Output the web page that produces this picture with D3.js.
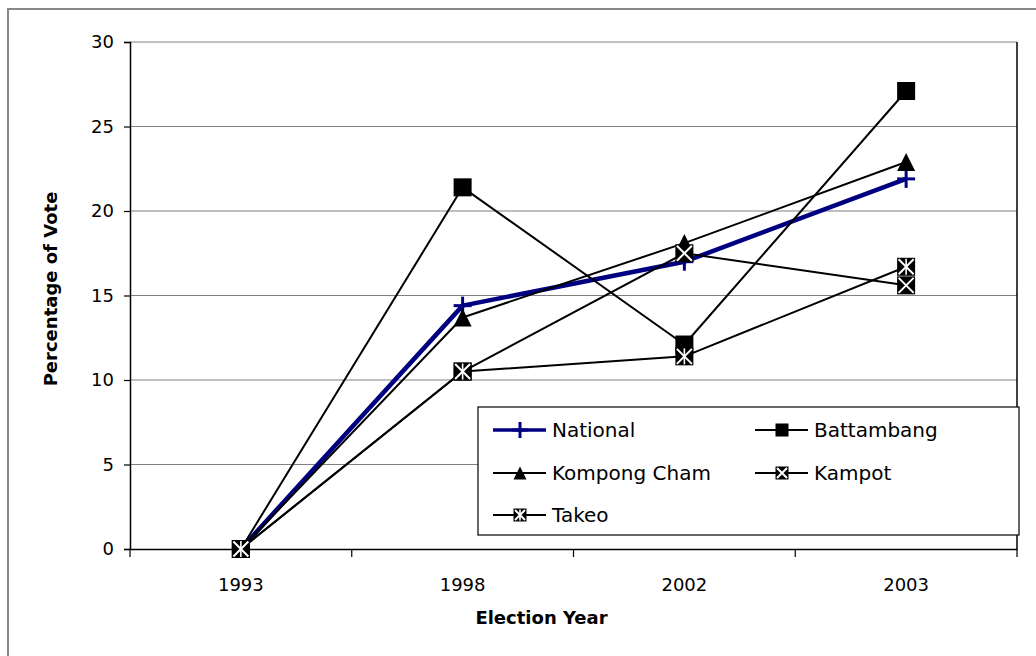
<!DOCTYPE html>
<html>
<head>
<meta charset="utf-8">
<script src="https://cdn.jsdelivr.net/npm/d3@7"></script>
<style>
  body { margin: 0; background: #fff; }
  text { font-family: "DejaVu Sans", sans-serif; }
</style>
</head>
<body>
<script>
// Chart data
const years = ['1993', '1998', '2002', '2003'];
const national = [0, 14.4, 17.0, 21.9];
const battambang = [0, 21.4, 12.1, 27.1];
const kompongCham = [0, 13.7, 18.1, 22.9];
const kampot = [0, 10.5, 17.5, 15.6];
const takeo = [0, 10.5, 11.4, 16.7];
const yTicks = [0, 5, 10, 15, 20, 25, 30];

const series = [
    { name: 'National', values: national, color: '#000080', width: 4.5, marker: 'plus' },
    { name: 'Battambang', values: battambang, color: '#000', width: 2, marker: 'square' },
    { name: 'Kompong Cham', values: kompongCham, color: '#000', width: 2, marker: 'triangle' },
    { name: 'Kampot', values: kampot, color: '#000', width: 2, marker: 'xbox' },
    { name: 'Takeo', values: takeo, color: '#000', width: 2, marker: 'star' }
];

const width = 1036, height = 656;
const plot = { left: 130, right: 1017, top: 42, bottom: 549 };

const svg = d3.select('body').append('svg')
    .attr('width', width)
    .attr('height', height);

// outer chart border (only top and left visible)
svg.append('rect')
    .attr('x', 8).attr('y', 9)
    .attr('width', 1040).attr('height', 660)
    .attr('fill', 'none')
    .attr('stroke', '#888')
    .attr('stroke-width', 2);

const x = d3.scaleBand().domain(years).range([plot.left, plot.right]);
const y = d3.scaleLinear().domain([0, 30]).range([plot.bottom, plot.top]);

// gridlines
svg.append('g')
    .selectAll('line')
    .data(yTicks.filter(d => d > 0))
    .enter().append('line')
    .attr('x1', plot.left).attr('x2', plot.right)
    .attr('y1', d => y(d)).attr('y2', d => y(d))
    .attr('stroke', '#808080')
    .attr('stroke-width', 1);

// right edge of plot
svg.append('line')
    .attr('x1', plot.right).attr('x2', plot.right)
    .attr('y1', plot.top).attr('y2', plot.bottom)
    .attr('stroke', '#000').attr('stroke-width', 1.5);

// y axis
const yAxis = svg.append('g')
    .attr('transform', `translate(${plot.left},0)`)
    .call(d3.axisLeft(y).tickValues(yTicks).tickSize(6).tickPadding(10));
yAxis.select('.domain').attr('stroke-width', 1.5);
yAxis.selectAll('.tick line').attr('stroke-width', 1.2);
yAxis.selectAll('text').attr('font-size', 18).attr('font-family', 'DejaVu Sans').attr('fill', '#000');

// x axis: ticks at category boundaries
const xAxis = svg.append('g')
    .attr('transform', `translate(0,${plot.bottom})`)
    .call(d3.axisBottom(x).tickSize(0).tickPadding(29));
xAxis.select('.domain').attr('stroke-width', 1.5);
xAxis.selectAll('text').attr('font-size', 18).attr('font-family', 'DejaVu Sans').attr('fill', '#000');
const bounds = years.map(d => x(d)).concat([plot.right]);
xAxis.selectAll('.bound')
    .data(bounds)
    .enter().append('line')
    .attr('x1', d => d).attr('x2', d => d)
    .attr('y1', 0).attr('y2', 8)
    .attr('stroke', '#000').attr('stroke-width', 1.2);

// axis titles
svg.append('text')
    .attr('x', (plot.left + plot.right) / 2 - 32)
    .attr('y', 624)
    .attr('text-anchor', 'middle')
    .attr('font-size', 18)
    .attr('font-weight', 'bold')
    .text('Election Year');

svg.append('text')
    .attr('transform', 'translate(57,289) rotate(-90)')
    .attr('text-anchor', 'middle')
    .attr('font-size', 18)
    .attr('font-weight', 'bold')
    .text('Percentage of Vote');

// marker drawing
function drawMarker(g, type, s, color) {
    const h = s / 2;
    if (type === 'plus') {
        g.append('line').attr('x1', 0).attr('x2', 0).attr('y1', -h).attr('y2', h)
            .attr('stroke', color).attr('stroke-width', 3);
        g.append('line').attr('x1', -h).attr('x2', h).attr('y1', 0).attr('y2', 0)
            .attr('stroke', color).attr('stroke-width', 3);
    } else if (type === 'square') {
        g.append('rect').attr('x', -h).attr('y', -h).attr('width', s).attr('height', s)
            .attr('fill', '#000');
    } else if (type === 'triangle') {
        g.append('path').attr('d', `M0,${-h}L${h},${h}L${-h},${h}Z`).attr('fill', '#000');
    } else {
        g.append('rect').attr('x', -h).attr('y', -h).attr('width', s).attr('height', s)
            .attr('fill', '#000');
        const k = h - 1.5;
        g.append('path').attr('d', `M${-k},${-k}L${k},${k}M${k},${-k}L${-k},${k}`)
            .attr('stroke', '#fff').attr('stroke-width', 2);
        if (type === 'star') {
            g.append('line').attr('x1', 0).attr('x2', 0).attr('y1', -h + 1).attr('y2', h - 1)
                .attr('stroke', '#fff').attr('stroke-width', 1.6);
        }
    }
}

const line = d3.line()
    .x((d, i) => x(years[i]) + x.bandwidth() / 2)
    .y(d => y(d));

// lines first
series.forEach(s => {
    svg.append('path')
        .datum(s.values)
        .attr('d', line)
        .attr('fill', 'none')
        .attr('stroke', s.color)
        .attr('stroke-width', s.width)
        .attr('stroke-linejoin', 'round');
});

// then markers
series.forEach(s => {
    s.values.forEach((v, i) => {
        const g = svg.append('g')
            .attr('transform', `translate(${x(years[i]) + x.bandwidth() / 2},${y(v)})`);
        drawMarker(g, s.marker, 18, s.color);
    });
});

// legend
const legend = svg.append('g');
legend.append('rect')
    .attr('x', 478).attr('y', 407)
    .attr('width', 541).attr('height', 128)
    .attr('fill', '#fff')
    .attr('stroke', '#000')
    .attr('stroke-width', 1.2);

const legendPos = [
    { x: 493, y: 430 }, { x: 755, y: 430 },
    { x: 493, y: 473 }, { x: 755, y: 473 },
    { x: 493, y: 515 }
];

series.forEach((s, i) => {
    const p = legendPos[i];
    const g = legend.append('g').attr('transform', `translate(${p.x},${p.y})`);
    g.append('line')
        .attr('x1', 0).attr('x2', 53).attr('y1', 0).attr('y2', 0)
        .attr('stroke', s.color)
        .attr('stroke-width', s.marker === 'plus' ? 3.5 : 2);
    const m = g.append('g').attr('transform', 'translate(27,0)');
    drawMarker(m, s.marker, s.marker === 'plus' ? 16 : 13, s.color);
    g.append('text')
        .attr('x', 59).attr('y', 0)
        .attr('dy', '0.36em')
        .attr('font-size', 20)
        .text(s.name);
});
</script>
</body>
</html>
